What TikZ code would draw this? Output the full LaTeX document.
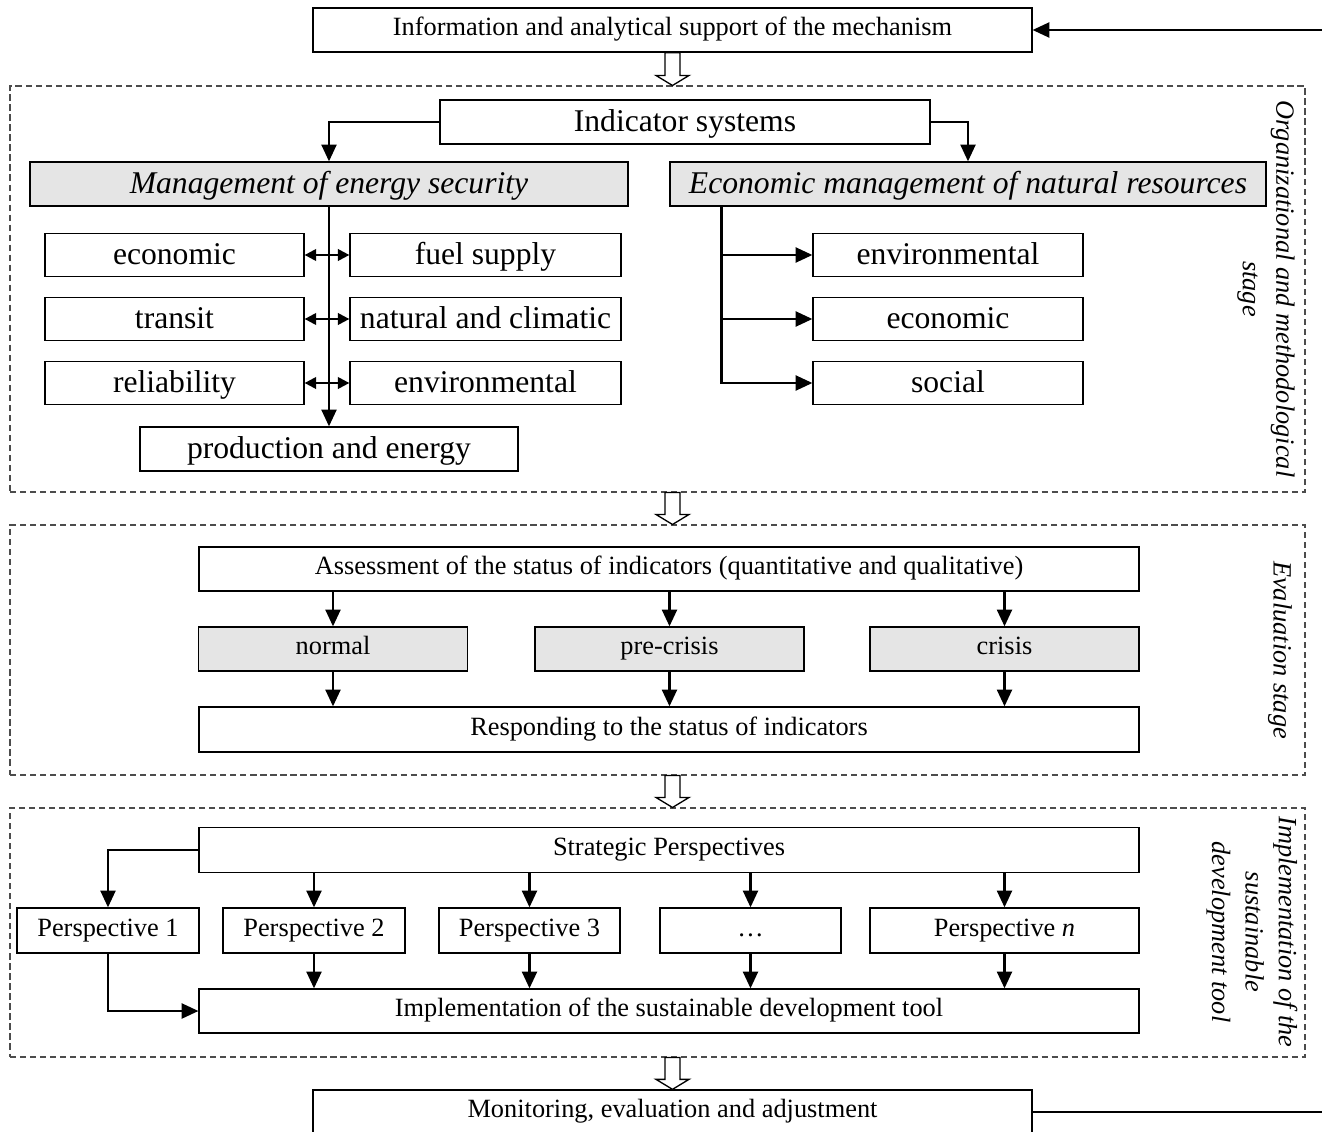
\documentclass[tikz,border=0pt]{standalone}
\usepackage{fontspec}
\setmainfont{Liberation Serif}
\usetikzlibrary{
    positioning,   % Relative positioning
    arrows.meta,   % Modern arrow tips
    calc,          % Coordinate calculations
    fit            % Fitting nodes
}

% hollow block arrow between two stages
\newcommand{\hollowarrow}[2]{%
    \draw[hollow] ($(info.center |- #1.south)+(-7.5,0)$) -- ($(info.center |- #2.north)+(-7.5,-10)$) -- ++(-9,0)
        -- (info.center |- #2.north) -- ($(info.center |- #2.north)+(16.5,-10)$) -- ++(-9,0)
        -- ($(info.center |- #1.south)+(7.5,0)$) -- cycle;}

\begin{document}
\begin{tikzpicture}[x=0.02cm,y=-0.02cm,
    box/.style={draw, line width=0.75pt, inner sep=1pt, minimum height=0.86cm, text height=10.5pt, text depth=3.8pt,
        font=\fontsize{15pt}{18pt}\selectfont},
    bigbox/.style={box, text height=13.6pt, text depth=3pt, font=\fontsize{18pt}{22pt}\selectfont},
    greybox/.style={fill=black!10},
    stagebox/.style={draw=black!70, line width=0.6pt, dash pattern=on 3.5pt off 2.2pt, inner sep=0pt},
    stagelabel/.style={rotate=-90, align=center, font=\fontsize{15pt}{19pt}\selectfont\itshape},
    arr/.style={line width=1.3pt, -{Triangle[length=9.5pt,width=8.5pt]}},
    darr/.style={line width=1.3pt, {Triangle[length=6.5pt,width=6.5pt]}-{Triangle[length=6.5pt,width=6.5pt]}},
    hollow/.style={draw, fill=white, line width=0.75pt}]
    \useasboundingbox (0,0) rectangle (1322,1132);
    \clip (0,0) rectangle (1322,1132);

    \node[box, minimum width=14.38cm, minimum height=0.88cm] (info) at (672.5,30) {Information and analytical support of the mechanism};

    % organizational and methodological stage
    \node[stagebox, fit={(10,86) (1305,492)}] (orgstage) {};
    \node[bigbox, minimum width=9.8cm, minimum height=0.88cm] (indsys) at (685,122) {Indicator systems};
    \node[bigbox, greybox, minimum width=11.96cm, minimum height=0.88cm] (energy) at (329,184) {\itshape Management of energy security};
    \node[bigbox, greybox, minimum width=11.92cm, minimum height=0.88cm] (natres) at (968,184) {\itshape Economic management of natural resources};
    \draw[arr] (indsys.west) -| (energy.north);
    \draw[arr] (indsys.east) -| (natres.north);
    \foreach \name/\txt [count=\i] in {econ/economic, transit/transit, reliab/reliability}
        \node[bigbox, minimum width=5.18cm] (\name) at (174.5,191+64*\i) {\txt};
    \foreach \name/\txt [count=\i] in {fuel/fuel supply, climate/natural and climatic, envir/environmental}
        \node[bigbox, minimum width=5.42cm] (\name) at (485.5,191+64*\i) {\txt};
    \foreach \name/\txt [count=\i] in {nrenv/environmental, nrecon/economic, nrsoc/social}
        \node[bigbox, minimum width=5.4cm] (\name) at (948,191+64*\i) {\txt};
    \node[bigbox, minimum width=7.56cm, minimum height=0.88cm] (prod) at (329,449) {production and energy};
    \draw[arr] (energy.south) -- (prod.north);
    \foreach \l/\r in {econ/fuel, transit/climate, reliab/envir}
        \draw[darr] (\l.east) -- (\r.west);
    \foreach \name in {nrenv, nrecon, nrsoc}
        \draw[arr] ($(natres.south west)+(52,0)$) |- (\name.west);
    \node[stagelabel] (orglabel) at (1266,289) {Organizational and methodological\\stage};

    % evaluation stage
    \node[stagebox, fit={(10,525) (1305,775)}] (evalstage) {};
    \node[box, minimum width=18.8cm, minimum height=0.88cm] (assess) at (669,569) {Assessment of the status of indicators (quantitative and qualitative)};
    \foreach \name/\txt/\x in {normal/normal/333, precrisis/pre-crisis/669.5, crisis/crisis/1004.5}
        \node[box, greybox, minimum width=5.38cm, minimum height=0.88cm] (\name) at (\x,649) {\txt};
    \node[box, minimum width=18.8cm, minimum height=0.9cm] (respond) at (669,729.5) {Responding to the status of indicators};
    \foreach \name in {normal, precrisis, crisis} {
        \draw[arr] (assess.south -| \name) -- (\name.north);
        \draw[arr] (\name.south) -- (respond.north -| \name);
    }
    \node[stagelabel] (evallabel) at (1280,650) {Evaluation stage};

    % implementation stage
    \node[stagebox, fit={(10,808) (1305,1057)}] (implstage) {};
    \node[box, minimum width=18.8cm, minimum height=0.9cm] (strat) at (669,850) {Strategic Perspectives};
    \foreach \name/\txt/\x/\w in {persp1/Perspective 1/108/3.64, persp2/Perspective 2/314/3.64, persp3/Perspective 3/529.5/3.62,
        perspdots/\dots/750.5/3.62, perspn/Perspective \textit{n}/1004.5/5.38}
        \node[box, minimum width=\w cm, minimum height=0.9cm] (\name) at (\x,930.5) {\txt};
    \node[box, minimum width=18.8cm, minimum height=0.88cm] (implement) at (669,1011) {Implementation of the sustainable development tool};
    \draw[arr] (strat.west) -| (persp1.north);
    \draw[arr] (persp1.south) |- (implement.west);
    \foreach \name in {persp2, persp3, perspdots, perspn} {
        \draw[arr] (strat.south -| \name) -- (\name.north);
        \draw[arr] (\name.south) -- (implement.north -| \name);
    }
    \node[stagelabel] (impllabel) at (1252,932) {Implementation of the\\sustainable\\development tool};

    \node[box, minimum width=14.38cm, minimum height=0.88cm] (monitor) at (672.5,1112) {Monitoring, evaluation and adjustment};
    \coordinate (loopright) at (1340,1112);
    \draw[arr] (monitor.east) -- (loopright) |- (info.east);

    \hollowarrow{info}{orgstage}
    \hollowarrow{orgstage}{evalstage}
    \hollowarrow{evalstage}{implstage}
    \hollowarrow{implstage}{monitor}
\end{tikzpicture}
\end{document}
